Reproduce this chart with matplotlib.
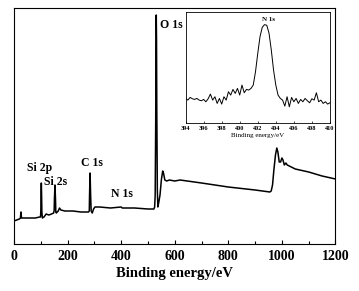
import matplotlib
matplotlib.use("Agg")
import matplotlib.pyplot as plt

plt.rcParams['font.family'] = ['Liberation Serif', 'DejaVu Serif']
plt.rcParams['font.weight'] = 'bold'

# survey spectrum (binding energy / eV, intensity a.u.)
survey_be = [0, 10, 20, 24, 26, 28, 40, 60, 80, 95, 99, 100, 101, 102, 103, 104, 106,
             112, 120, 130, 140, 148, 150, 151, 153, 155, 156, 158, 165, 170, 175, 190,
             220, 250, 278, 281, 282, 284, 286, 288, 292, 297, 302, 320, 360, 400, 404,
             450, 500, 522, 525, 527, 529, 530, 531, 532, 533, 535, 537, 540, 545, 550,
             555, 558, 563, 570, 580, 600, 620, 700, 800, 900, 955, 960, 965, 970, 976,
             981, 985, 990, 995, 1000, 1004, 1009, 1015, 1020, 1050, 1100, 1150, 1200]
survey_int = [23, 24, 25, 26, 32, 26, 26, 26, 26, 27, 27, 32, 49, 61, 49, 32, 26,
              27, 30, 29, 30, 31, 34, 46, 59, 44, 32, 31, 33, 36, 34, 33,
              33, 32, 32, 33, 49, 71, 49, 33, 31, 35, 37, 37, 36, 37, 36,
              36, 35, 35, 37, 49, 124, 194, 229, 204, 134, 54, 37, 41, 49, 64,
              73, 71, 64, 63, 64, 63, 64, 61, 57, 54, 52, 53, 59, 74, 89,
              96, 92, 82, 82, 86, 84, 79, 81, 79, 75, 72, 68, 65]

peak_labels = ['O 1s', 'Si 2p', 'Si 2s', 'C 1s', 'N 1s']
peak_label_x = [546, 49, 112, 250, 363]
peak_label_y = [219, 76, 62, 81, 50]

# N 1s high resolution
n1s_be = [394.0, 394.25, 394.5, 394.75, 395.0, 395.25, 395.5, 395.75, 396.0, 396.25,
          396.5, 396.75, 397.0, 397.25, 397.5, 397.75, 398.0, 398.25, 398.5, 398.75,
          399.0, 399.25, 399.5, 399.75, 400.0, 400.25, 400.5, 400.75, 401.0, 401.25,
          401.5, 401.75, 402.0, 402.25, 402.5, 402.75, 403.0, 403.25, 403.5, 403.75,
          404.0, 404.25, 404.5, 404.75, 405.0, 405.25, 405.5, 405.75, 406.0, 406.25,
          406.5, 406.75, 407.0, 407.25, 407.5, 407.75, 408.0, 408.25, 408.5, 408.75,
          409.0, 409.25, 409.5, 409.75, 410.0]
n1s_int = [73, 68, 76, 72, 70, 73, 68, 66, 70, 63,
           72, 86, 68, 78, 58, 73, 56, 78, 68, 93,
           83, 100, 88, 103, 83, 113, 90, 100, 98, 103,
           113, 153, 208, 258, 286, 294, 292, 268, 218, 158,
           113, 83, 73, 68, 50, 78, 48, 76, 63, 73,
           58, 70, 63, 73, 66, 60, 72, 68, 90, 63,
           68, 58, 63, 56, 60]

fig = plt.figure(figsize=(3.59, 2.91), dpi=100)
ax = fig.add_axes([0.039, 0.1615, 0.8955, 0.811])
ax.plot(survey_be, survey_int, color='black', lw=1.1)
ax.set_xlim(0, 1200)
ax.set_ylim(0, 236)
ax.set_xticks(range(0, 1201, 200))
ax.set_xticks(range(100, 1200, 200), minor=True)
ax.set_yticks([])
ax.tick_params(axis='x', which='major', direction='in', length=3, width=0.8,
               labelsize=10, pad=4)
ax.tick_params(axis='x', which='minor', direction='in', length=2, width=0.8)
for lbl in ax.get_xticklabels():
    lbl.set_fontweight('bold')
ax.set_xlabel('Binding energy/eV', fontsize=10.5, fontweight='bold', labelpad=3)
for s in ax.spines.values():
    s.set_linewidth(0.8)
for t, x, y in zip(peak_labels, peak_label_x, peak_label_y):
    ax.text(x, y, t, fontsize=8.5, fontweight='bold', ha='left', va='center')

ins = fig.add_axes([0.517, 0.578, 0.402, 0.381])
ins.plot(n1s_be, n1s_int, color='black', lw=0.7)
ins.set_xlim(394, 410)
ins.set_ylim(0, 332)
ins.set_xticks(range(394, 411, 2))
ins.set_yticks([])
ins.tick_params(axis='x', direction='in', length=1.5, width=0.5, labelsize=4.5, pad=2)
ins.set_xlabel('Binding energy/eV', fontsize=5, labelpad=2)
for s in ins.spines.values():
    s.set_linewidth(0.6)
ins.text(403.2, 308, 'N 1s', fontsize=5, ha='center', va='center')

fig.savefig('out.png', dpi=100)
